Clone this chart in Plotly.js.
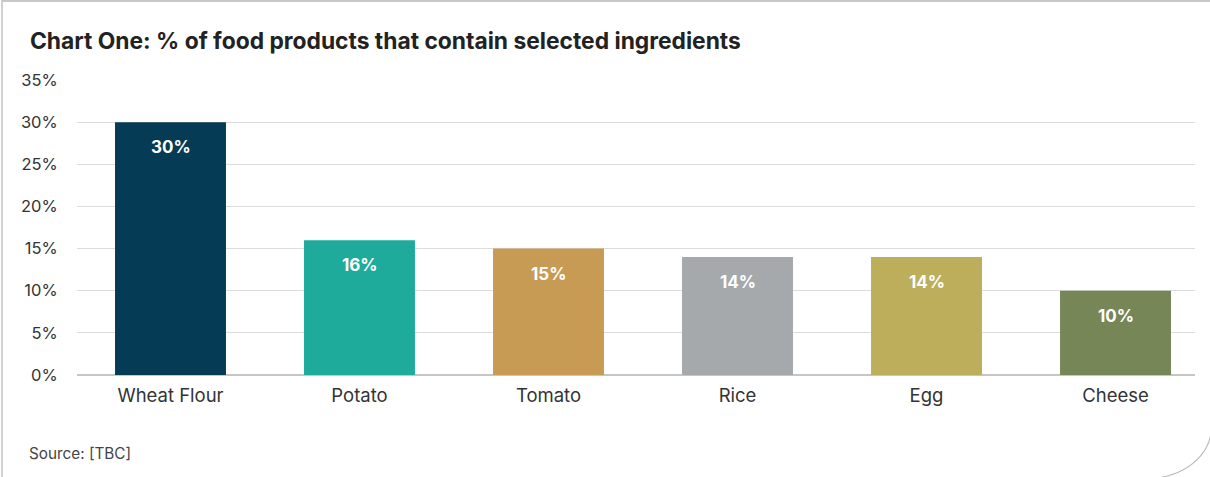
<!DOCTYPE html>
<html>
<head>
<meta charset="utf-8">
<script src="https://cdn.plot.ly/plotly-3.0.1.min.js"></script>
<style>
  html, body { margin: 0; padding: 0; background: #ffffff; }
  #wrap { position: relative; width: 1210px; height: 477px; overflow: hidden; }
  #chart { position: absolute; left: 0; top: 0; width: 1210px; height: 477px; }
  #frame { position: absolute; left: 1px; top: 0px; width: 1211px; height: 479px;
           border-left: 2px solid #d0d0d0; border-top: 2px solid #c8c8c8;
           border-right: 1px solid #b8b8b8; border-bottom: 1px solid #b8b8b8;
           border-bottom-right-radius: 64px 52px; box-sizing: border-box; pointer-events: none; }
</style>
</head>
<body>
<div id="wrap">
  <div id="chart"></div>
  <div id="frame"></div>
</div>
<script>
const categories = ["Wheat Flour", "Potato", "Tomato", "Rice", "Egg", "Cheese"];
const values = [30, 16, 15, 14, 14, 10];
const barColors = ["#063b55", "#1eab9b", "#c89b55", "#a6a9ac", "#bcae5a", "#778656"];
const yTickValues = [0, 5, 10, 15, 20, 25, 30, 35];
const yTickLabels = ["0%", "5%", "10%", "15%", "20%", "25%", "30%", "35%"];
const titleText = "Chart One: % of food products that contain selected ingredients";
const sourceText = "Source: [TBC]";

const FONT = "Inter, 'Noto Sans', sans-serif";

const trace = {
  type: "bar",
  x: categories,
  y: values,
  marker: { color: barColors, line: { width: 0 } },
  hoverinfo: "skip"
};

const labelAnnotations = categories.map((c, i) => ({
  x: c, y: values[i], xref: "x", yref: "y",
  text: "<b>" + values[i] + "%</b>",
  showarrow: false, yshift: -25, yanchor: "middle",
  font: { family: FONT, size: 17, color: "#ffffff" }
}));

const layout = {
  width: 1210, height: 477,
  margin: { l: 77, r: 15, t: 80, b: 102 },
  paper_bgcolor: "#ffffff", plot_bgcolor: "#ffffff",
  showlegend: false,
  bargap: 0.413,
  title: {
    text: "<b>" + titleText + "</b>",
    xref: "container", yref: "container",
    x: 30 / 1210, xanchor: "left",
    y: 1 - 41 / 477, yanchor: "middle",
    font: { family: FONT, size: 22.8, color: "#222222" }
  },
  xaxis: {
    type: "category",
    range: [-0.4947, 5.4206],
    showgrid: false, zeroline: false, showline: false,
    ticks: "outside", ticklen: 4, tickcolor: "rgba(0,0,0,0)",
    tickfont: { family: FONT, size: 18.5, color: "#333333" },
    fixedrange: true
  },
  yaxis: {
    range: [0, 35],
    tickvals: yTickValues, ticktext: yTickLabels,
    showgrid: true, gridcolor: "#dcdcdc", gridwidth: 1,
    zeroline: true, zerolinecolor: "#c6c6c6", zerolinewidth: 2,
    showline: false,
    ticks: "outside", ticklen: 15, tickcolor: "rgba(0,0,0,0)",
    tickfont: { family: FONT, size: 16.5, color: "#333333" },
    fixedrange: true
  },
  annotations: labelAnnotations.concat([{
    xref: "paper", yref: "paper",
    x: (27 - 77) / 1118, xanchor: "left",
    y: (375 - 453) / 295, yanchor: "middle",
    text: sourceText, showarrow: false,
    font: { family: FONT, size: 15.3, color: "#444444" }
  }])
};

Plotly.newPlot("chart", [trace], layout, { displayModeBar: false, staticPlot: true });
</script>
</body>
</html>
